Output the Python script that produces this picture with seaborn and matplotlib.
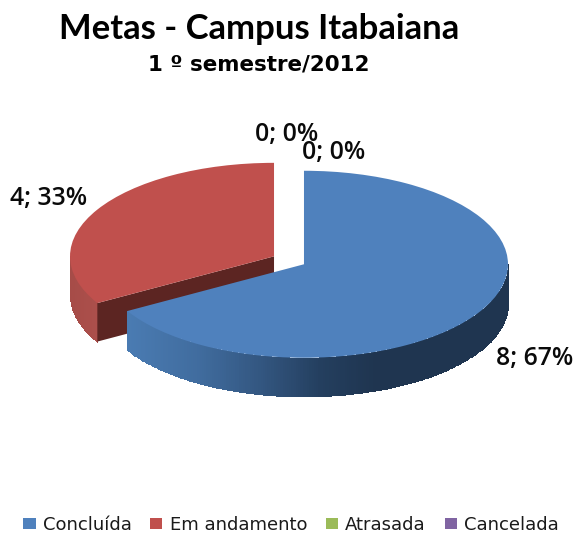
import numpy as np
import matplotlib
matplotlib.use("Agg")
import matplotlib.pyplot as plt
from matplotlib.colors import LinearSegmentedColormap
import seaborn as sns

categories = ["Concluída", "Em andamento", "Atrasada", "Cancelada"]
values = [8, 4, 0, 0]
colors = ["#4F81BD", "#C0504D", "#9BBB59", "#8064A2"]
title = "Metas - Campus Itabaiana"
subtitle = "1 º semestre/2012"

W, H = 576, 535
RX, RY = 204, 93.5
K = RY / RX
DEPTH = 38.5 / K


def v(py):
    return (H - py) / K


sns.set_theme(style="white")
palette = sns.color_palette(colors)
fig = plt.figure(figsize=(W / 100, H / 100), dpi=100, facecolor="white")
ax = fig.add_axes([0, 0, 1, 1])

wedges, _ = ax.pie(values, explode=[17.3] * 4, startangle=90, counterclock=False,
                   colors=palette, radius=RX, center=(289, v(260.3)),
                   wedgeprops={"linewidth": 0, "zorder": 5})
ax.set_aspect("auto")
ax.set_xlim(0, W)
ax.set_ylim(0, H / K)
ax.axis("off")

side_maps = [
    LinearSegmentedColormap.from_list("b", [(0, "#4A7BB2"), (0.29, "#406C9E"), (0.54, "#335680"),
                                            (0.78, "#243F5F"), (1, "#1F3550")]),
    LinearSegmentedColormap.from_list("r", ["#A64C48", "#AC4F4B"]),
]
side_ranges = [(128, 375), (70, 97)]
z = [3, 1]
for i in range(2):
    w = wedges[i]
    lo, hi = max(w.theta1, -180), min(w.theta2, 0)
    th = np.radians(np.linspace(lo, hi, 240))
    xs = w.center[0] + w.r * np.cos(th)
    ys = w.center[1] + w.r * np.sin(th)
    X = np.vstack([xs, xs])
    Y = np.vstack([ys, ys - DEPTH])
    C = (0.5 * (xs[:-1] + xs[1:]))[None, :]
    ax.pcolormesh(X, Y, C, cmap=side_maps[i], vmin=side_ranges[i][0], vmax=side_ranges[i][1],
                  shading="flat", zorder=z[i], linewidth=0.4, edgecolor="face")

# cut face of the red slice, from its centre to the rim
red = wedges[1]
a = np.radians(red.theta2)
px = [red.center[0], red.center[0] + red.r * np.cos(a)]
py = [red.center[1], red.center[1] + red.r * np.sin(a)]
ax.fill([px[0], px[1], px[1], px[0]], [py[0], py[1], py[1] - DEPTH, py[0] - DEPTH],
        color="#5C2522", lw=0, zorder=2)
red.set_zorder(2.5)
wedges[0].set_zorder(5)

total = sum(values)
label_pos = [(535, 359), (49, 198), (287, 134), (334, 152)]
for val, (lx, ly) in zip(values, label_pos):
    fig.text(lx / W, 1 - ly / H, f"{val}; {round(100 * val / total)}%", ha="center", va="center",
             fontsize=17.8, fontweight="semibold", family="Open Sans", color="#0A0A0A", zorder=10)

fig.text(259 / W, 1 - 29 / H, title, ha="center", va="center", fontsize=24.9,
         fontweight="bold", family="Lato", color="black")
fig.text(259 / W, 1 - 64 / H, subtitle, ha="center", va="center", fontsize=15.4,
         fontweight="bold", family="DejaVu Sans", color="black")

ax.legend(wedges, categories, loc="center", bbox_to_anchor=(291 / W, 1 - 525 / H),
          bbox_transform=fig.transFigure, ncol=4, frameon=False, handlelength=0.67, handleheight=0.62,
          handletextpad=0.39, columnspacing=1.05, borderpad=0, borderaxespad=0,
          prop={"family": "DejaVu Sans", "size": 13}, labelcolor="#1A1A1A")
fig.savefig("out.png", dpi=100)
